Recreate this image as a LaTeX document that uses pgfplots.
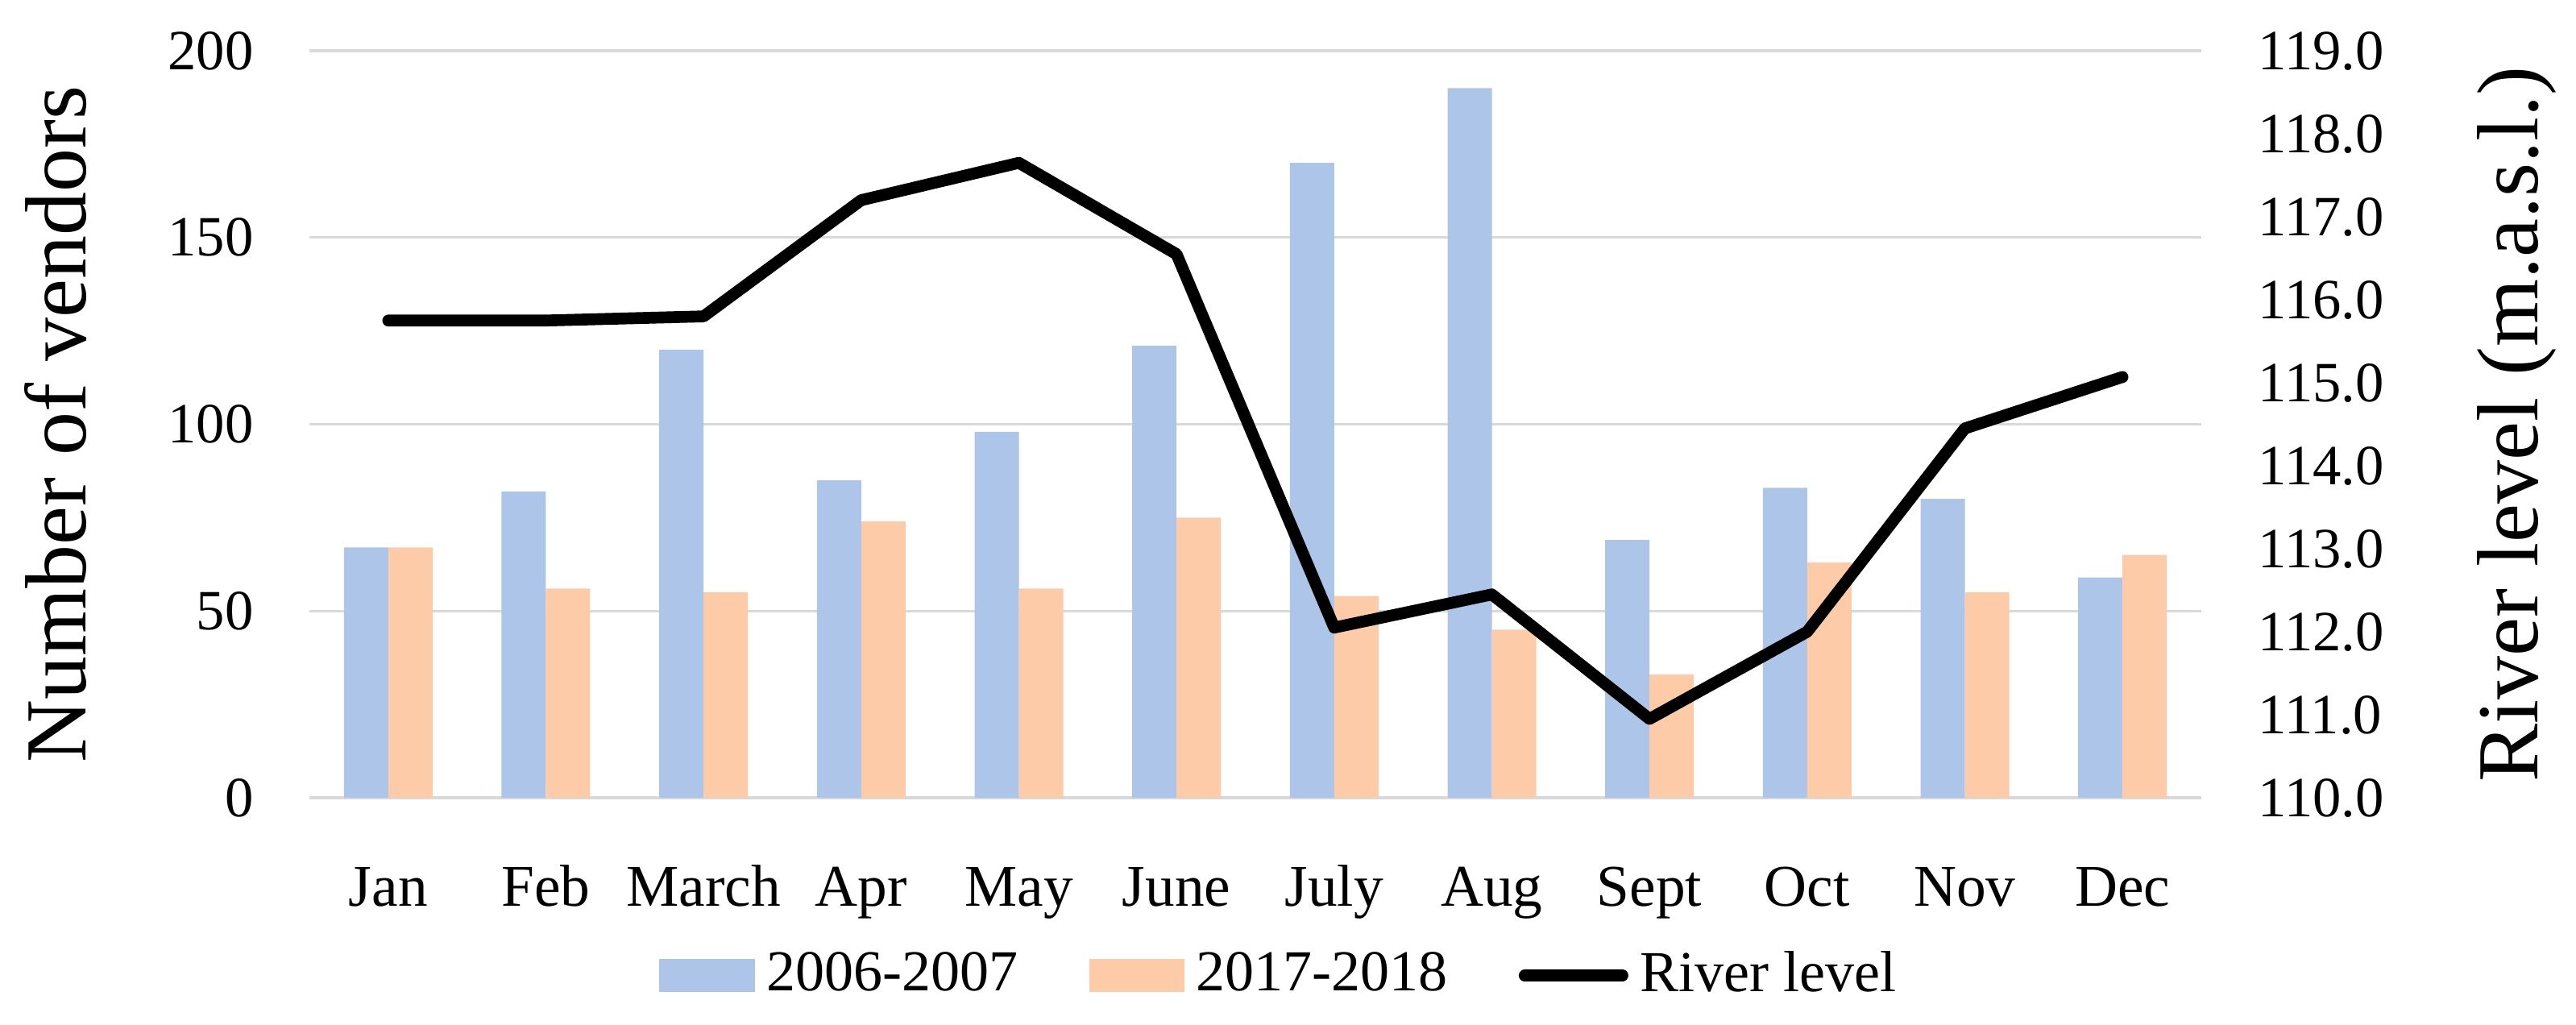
\documentclass[border=0pt]{standalone}
\usepackage{fontspec}
\setmainfont{Liberation Serif}
\usepackage{pgfplots}
\pgfplotsset{compat=1.18}
\definecolor{blueb}{RGB}{172,197,232}
\definecolor{orangeb}{RGB}{254,203,168}
\definecolor{gridc}{RGB}{217,217,217}
\begin{document}
\begin{tikzpicture}
\begin{axis}[
  scale only axis, width=352.2pt, height=139.05pt,
  xmin=-0.5, xmax=11.5, ymin=0, ymax=200,
  xtick={0,...,11},
  xticklabels={Jan,Feb,March,Apr,May,June,July,Aug,Sept,Oct,Nov,Dec},
  ytick={0,50,100,150,200},
  ymajorgrids, grid style={draw=gridc, line width=0.5pt},
  axis line style={draw=none}, tick style={draw=none},
  /pgf/number format/assume math mode=true,
  xticklabel style={anchor=base, inner sep=0pt, yshift=-15.9pt, font=\fontsize{11}{13}\selectfont},
  yticklabel style={anchor=east, inner sep=0pt, xshift=-10.2pt, font=\fontsize{10.6}{12.5}\selectfont},
  ylabel={Number of vendors},
  ylabel style={at={(axis description cs:-0.117,0.5)}, anchor=south, inner sep=0pt, font=\fontsize{16.2}{19}\selectfont},
  ybar=0pt, bar width=8.25pt,
]
\addplot[fill=blueb, draw=none] coordinates {(0,67) (1,82) (2,120) (3,85) (4,98) (5,121) (6,170) (7,190) (8,69) (9,83) (10,80) (11,59)};
\addplot[fill=orangeb, draw=none] coordinates {(0,67) (1,56) (2,55) (3,74) (4,56) (5,75) (6,54) (7,45) (8,33) (9,63) (10,55) (11,65)};
\end{axis}
\begin{axis}[
  scale only axis, width=352.2pt, height=139.05pt,
  xmin=-0.5, xmax=11.5, ymin=110, ymax=119,
  axis x line=none, axis y line*=right,
  axis line style={draw=none}, tick style={draw=none},
  ytick={110,111,...,119},
  /pgf/number format/assume math mode=true,
  /pgf/number format/.cd, fixed, fixed zerofill, precision=1, /pgfplots/.cd,
  yticklabel style={anchor=west, inner sep=0pt, xshift=10.35pt, font=\fontsize{10.6}{12.5}\selectfont},
  ylabel={River level (m.a.s.l.)},
  ylabel style={at={(axis description cs:1.188,0.5)}, anchor=south, rotate=0, inner sep=0pt, font=\fontsize{16.2}{19}\selectfont},
  legend columns=-1,
  legend style={draw=none, fill=none, at={(axis description cs:0.515,-0.238)}, anchor=center,
    font=\fontsize{10.8}{13}\selectfont, inner sep=0pt,
    nodes={inner sep=2.2pt},
    /tikz/every even column/.append style={column sep=11pt}},
]
\addlegendimage{legend image code/.code={\fill[blueb] (0pt,-2.9pt) rectangle (17.4pt,2.9pt);}}
\addlegendentry{2006-2007}
\addlegendimage{legend image code/.code={\fill[orangeb] (0pt,-2.9pt) rectangle (17.4pt,2.9pt);}}
\addlegendentry{2017-2018}
\addplot[black, line width=2.2pt, line join=round, line cap=round, mark=none,
  legend image code/.code={\draw[black, line width=2.2pt, line cap=round] (0.8pt,0pt) -- (19pt,0pt);}]
  coordinates {(0,115.75) (1,115.75) (2,115.8) (3,117.2) (4,117.65) (5,116.55) (6,112.05) (7,112.45) (8,110.95) (9,112.0) (10,114.45) (11,115.07)};
\addlegendentry{River level}
\end{axis}
\pgfresetboundingbox
\useasboundingbox (-57.6pt,-42.15pt) rectangle (421.95pt,148.5pt);
\end{tikzpicture}
\end{document}
